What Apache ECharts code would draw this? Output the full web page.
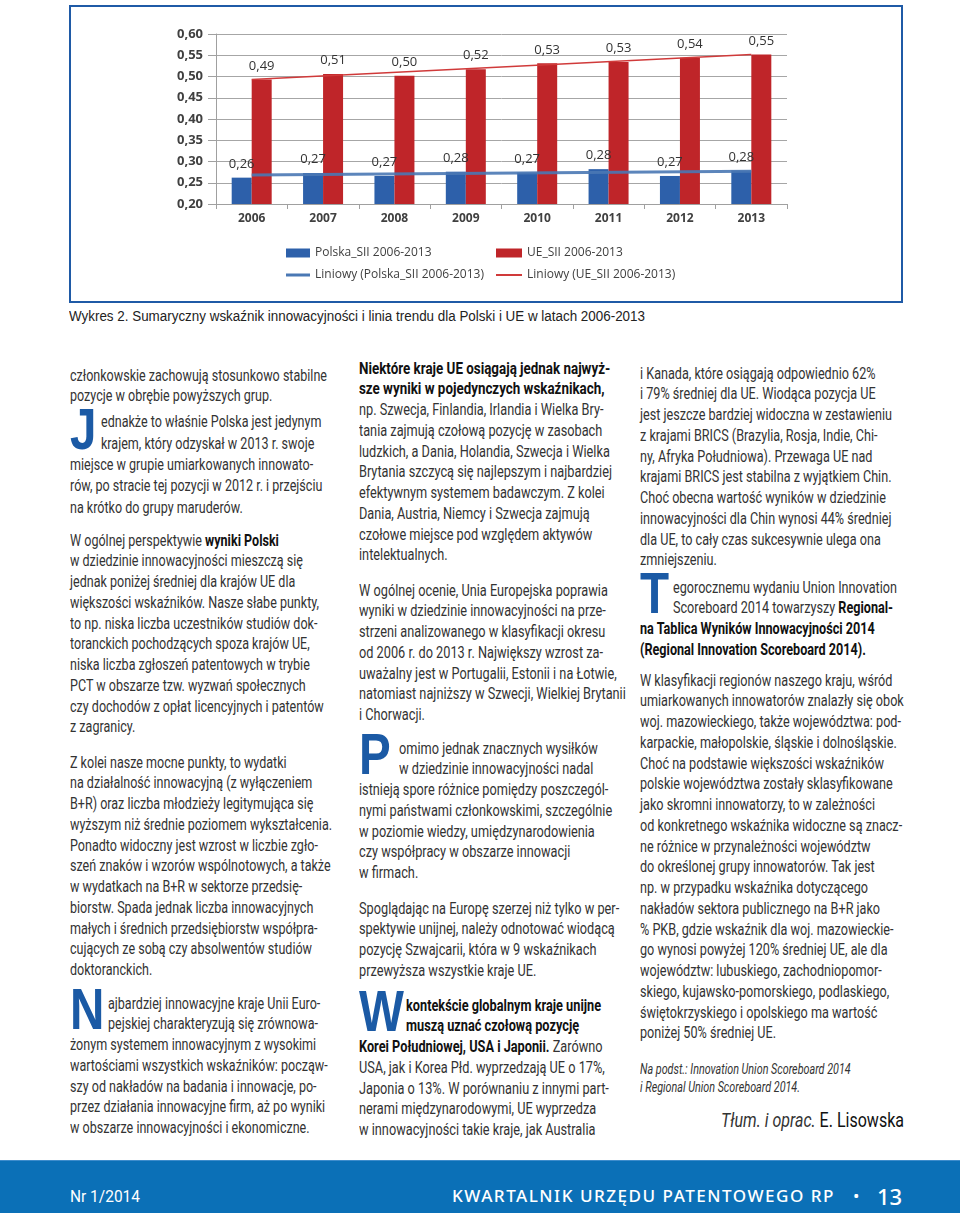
<!DOCTYPE html>
<html><head><meta charset="utf-8">
<script src="https://cdn.jsdelivr.net/npm/echarts@6/dist/echarts.min.js"></script>
<style>
html,body{margin:0;padding:0;background:#fff;}
#page{position:relative;width:960px;height:1213px;overflow:hidden;background:#fff;}
#frame{position:absolute;left:69px;top:5px;width:830px;height:294px;border:2px solid #1f5aa6;background:#fff;}
#chart{position:absolute;left:0;top:0;width:830px;height:294px;}
.ln{position:absolute;white-space:nowrap;font-family:"Liberation Sans Narrow","Roboto",sans-serif;font-size:17px;color:#333;}
.ln .s{display:inline-block;transform-origin:0 50%;}
.ln b{font-weight:700;color:#111;}
.dc{position:absolute;font-family:"Liberation Sans",Arial,sans-serif;font-weight:700;color:#1b5aa5;font-size:58px;line-height:58px;transform-origin:0 0;transform:scaleX(0.82);}
#cap{position:absolute;left:69px;top:307px;white-space:nowrap;font-family:"Liberation Sans",Arial,sans-serif;font-size:14px;line-height:18px;color:#222;transform-origin:0 50%;}
#foot{position:absolute;left:0;top:1160px;width:960px;height:53px;background:#0b70b7;border-top:1px solid #3d8ccc;}
.ft{position:absolute;color:#fff;white-space:nowrap;transform-origin:0 50%;}
</style></head>
<body><div id="page">
<div id="frame"><div id="chart"></div></div>
<div id="cap">Wykres 2. Sumaryczny wskaźnik innowacyjności i linia trendu dla Polski i UE w latach 2006-2013</div>
<div id="foot"></div>
<div class="ft" id="fnr" style="left:70px;top:1186px;font-family:'Liberation Sans Narrow','Roboto',sans-serif;font-size:16px;line-height:22px;">Nr 1/2014</div>
<div class="ft" id="ftitle" style="left:452px;top:1185px;font-family:'Noto Sans',sans-serif;font-weight:500;font-size:17px;line-height:22px;letter-spacing:1.5px;">KWARTALNIK URZĘDU PATENTOWEGO RP</div>
<div class="ft" style="left:853px;top:1185px;font-family:'Noto Sans',sans-serif;font-size:17px;line-height:22px;">•</div>
<div class="ft" id="fnum" style="left:877px;top:1182px;font-family:'Noto Sans',sans-serif;font-weight:500;font-size:22px;line-height:28px;">13</div>
</div>
<script>
// ---- chart data ----
const years = ['2006','2007','2008','2009','2010','2011','2012','2013'];
const polskaSII = [0.262,0.273,0.266,0.276,0.274,0.282,0.266,0.279];
const ueSII = [0.493,0.506,0.502,0.517,0.531,0.534,0.544,0.552];
const polskaTrend = [0.268,null,null,null,null,null,null,0.277];
const ueTrend = [0.493,null,null,null,null,null,null,0.552];
const yMin = 0.20, yMax = 0.60, yStep = 0.05;
const seriesNames = ['Polska_SII 2006-2013','UE_SII 2006-2013','Liniowy (Polska_SII 2006-2013)','Liniowy (UE_SII 2006-2013)'];

const BLUE = '#2d60aa', RED = '#bf2529';
const fmt = v => v.toFixed(2).replace('.', ',');
const chart = echarts.init(document.getElementById('chart'), null, {renderer:'canvas'});
const legTxt = {fontFamily:'Open Sans', fontSize:12, color:'#404040'};
chart.setOption({
  animation:false,
  grid:{left:145, right:114, top:27, bottom:97},
  legend:[
    {data:[seriesNames[0]], left:210, top:235, icon:'rect', itemWidth:24, itemHeight:9, itemGap:0, textStyle:legTxt, selectedMode:false},
    {data:[seriesNames[1]], left:420, top:235, icon:'rect', itemWidth:26, itemHeight:9, itemGap:0, textStyle:legTxt, selectedMode:false},
    {data:[seriesNames[2]], left:210, top:257, icon:'rect', itemWidth:24, itemHeight:3, itemGap:0, textStyle:legTxt, selectedMode:false},
    {data:[seriesNames[3]], left:420, top:257, icon:'rect', itemWidth:26, itemHeight:2, itemGap:0, textStyle:legTxt, selectedMode:false}
  ],
  xAxis:{type:'category', data:years, boundaryGap:true,
    axisLine:{lineStyle:{color:'#a0a0a0'}},
    axisTick:{show:true, length:5, lineStyle:{color:'#a0a0a0'}},
    axisLabel:{fontFamily:'Open Sans', fontWeight:'bold', fontSize:12, color:'#404040', margin:9}},
  yAxis:{type:'value', min:yMin, max:yMax, interval:yStep,
    axisLine:{show:true, lineStyle:{color:'#a0a0a0'}},
    axisTick:{show:true, length:8, lineStyle:{color:'#a0a0a0'}},
    splitLine:{lineStyle:{color:'#a6a6a6'}},
    axisLabel:{fontFamily:'Open Sans', fontWeight:'bold', fontSize:13, color:'#404040', margin:13, formatter:fmt}},
  series:[
    {name:seriesNames[0], type:'bar', data:polskaSII, barWidth:20, barGap:'0%', itemStyle:{color:BLUE},
      label:{show:true, position:'top', distance:7, fontFamily:'Open Sans', fontSize:13, color:'#333', formatter:p=>fmt(p.value)}},
    {name:seriesNames[1], type:'bar', data:ueSII, barWidth:20, barGap:'0%', itemStyle:{color:RED},
      label:{show:true, position:'top', distance:7, fontFamily:'Open Sans', fontSize:13, color:'#333', formatter:p=>fmt(p.value)}},
    {name:seriesNames[2], type:'line', data:polskaTrend, connectNulls:true, symbol:'none', z:5,
      itemStyle:{color:'#4a78b4'}, lineStyle:{color:'#4a78b4', width:3, opacity:0.9}},
    {name:seriesNames[3], type:'line', data:ueTrend, connectNulls:true, symbol:'none', z:5,
      itemStyle:{color:'#d03a3a'}, lineStyle:{color:'#d03a3a', width:1.5}}
  ]
});

// ---- article text ----
const LH = 20.75;
const page = document.getElementById('page');
const cols = {1:[],2:[],3:[]};
function para(col, x, yc, lines, dc, indent, lh){
  const L = lh || LH;
  lines.forEach((t,i)=>{
    const d = document.createElement('div');
    d.className = 'ln';
    const left = x + (dc && i<2 ? indent : 0);
    d.style.left = left + 'px';
    d.style.top = (yc + i*L - L/2) + 'px';
    d.style.height = L + 'px';
    d.style.lineHeight = L + 'px';
    const s = document.createElement('span');
    s.className = 's';
    s.innerHTML = t.replace(/\*\*(.+?)\*\*/g,'<b>$1</b>');
    d.appendChild(s);
    page.appendChild(d);
    cols[col].push(s);
  });
  if(dc){
    const c = document.createElement('div');
    c.className = 'dc';
    c.textContent = dc;
    const base2 = yc + L + 5.5;
    c.style.left = x + 'px';
    c.style.top = (base2 - 49.1) + 'px';
    page.appendChild(c);
  }
}
const C1 = 70, C2 = 359, C3 = 640;
para(1, C1, 375, ['członkowskie zachowują stosunkowo stabilne','pozycje w obrębie powyższych grup.']);
para(1, C1, 422, ['ednakże to właśnie Polska jest jedynym','krajem, który odzyskał w 2013 r. swoje','miejsce w grupie umiarkowanych innowato-','rów, po stracie tej pozycji w 2012 r. i przejściu','na krótko do grupy maruderów.'], 'J', 31, 21.3);
para(1, C1, 540, ['W ogólnej perspektywie **wyniki Polski**','w dziedzinie innowacyjności mieszczą się','jednak poniżej średniej dla krajów UE dla','większości wskaźników. Nasze słabe punkty,','to np. niska liczba uczestników studiów dok-','toranckich pochodzących spoza krajów UE,','niska liczba zgłoszeń patentowych w trybie','PCT w obszarze tzw. wyzwań społecznych','czy dochodów z opłat licencyjnych i patentów','z zagranicy.']);
para(1, C1, 762, ['Z kolei nasze mocne punkty, to wydatki','na działalność innowacyjną (z wyłączeniem','B+R) oraz liczba młodzieży legitymująca się','wyższym niż średnie poziomem wykształcenia.','Ponadto widoczny jest wzrost w liczbie zgło-','szeń znaków i wzorów wspólnotowych, a także','w wydatkach na B+R w sektorze przedsię-','biorstw. Spada jednak liczba innowacyjnych','małych i średnich przedsiębiorstw współpra-','cujących ze sobą czy absolwentów studiów','doktoranckich.']);
para(1, C1, 1003, ['ajbardziej innowacyjne kraje Unii Euro-','pejskiej charakteryzują się zrównowa-','żonym systemem innowacyjnym z wysokimi','wartościami wszystkich wskaźników: począw-','szy od nakładów na badania i innowacje, po-','przez działania innowacyjne firm, aż po wyniki','w obszarze innowacyjności i ekonomiczne.'], 'N', 38);

para(2, C2, 368, ['**Niektóre kraje UE osiągają jednak najwyż-**','**sze wyniki w pojedynczych wskaźnikach,**','np. Szwecja, Finlandia, Irlandia i Wielka Bry-','tania zajmują czołową pozycję w zasobach','ludzkich, a Dania, Holandia, Szwecja i Wielka','Brytania szczycą się najlepszym i najbardziej','efektywnym systemem badawczym. Z kolei','Dania, Austria, Niemcy i Szwecja zajmują','czołowe miejsce pod względem aktywów','intelektualnych.']);
para(2, C2, 590, ['W ogólnej ocenie, Unia Europejska poprawia','wyniki w dziedzinie innowacyjności na prze-','strzeni analizowanego w klasyfikacji okresu','od 2006 r. do 2013 r. Największy wzrost za-','uważalny jest w Portugalii, Estonii i na Łotwie,','natomiast najniższy w Szwecji, Wielkiej Brytanii','i Chorwacji.']);
para(2, C2, 748, ['omimo jednak znacznych wysiłków','w dziedzinie innowacyjności nadal','istnieją spore różnice pomiędzy poszczegól-','nymi państwami członkowskimi, szczególnie','w poziomie wiedzy, umiędzynarodowienia','czy współpracy w obszarze innowacji','w firmach.'], 'P', 40);
para(2, C2, 908, ['Spoglądając na Europę szerzej niż tylko w per-','spektywie unijnej, należy odnotować wiodącą','pozycję Szwajcarii, która w 9 wskaźnikach','przewyższa wszystkie kraje UE.']);
para(2, C2, 1005, ['**kontekście globalnym kraje unijne**','**muszą uznać czołową pozycję**','**Korei Południowej, USA i Japonii.** Zarówno','USA, jak i Korea Płd. wyprzedzają UE o 17%,','Japonia o 13%. W porównaniu z innymi part-','nerami międzynarodowymi, UE wyprzedza','w innowacyjności takie kraje, jak Australia'], 'W', 47);

para(3, C3, 373, ['i Kanada, które osiągają odpowiednio 62%','i 79% średniej dla UE. Wiodąca pozycja UE','jest jeszcze bardziej widoczna w zestawieniu','z krajami BRICS (Brazylia, Rosja, Indie, Chi-','ny, Afryka Południowa). Przewaga UE nad','krajami BRICS jest stabilna z wyjątkiem Chin.','Choć obecna wartość wyników w dziedzinie','innowacyjności dla Chin wynosi 44% średniej','dla UE, to cały czas sukcesywnie ulega ona','zmniejszeniu.']);
para(3, C3, 587, ['egorocznemu wydaniu Union Innovation','Scoreboard 2014 towarzyszy **Regional-**','**na Tablica Wyników Innowacyjności 2014**','**(Regional Innovation Scoreboard 2014).**'], 'T', 33);
para(3, C3, 680, ['W klasyfikacji regionów naszego kraju, wśród','umiarkowanych innowatorów znalazły się obok','woj. mazowieckiego, także województwa: pod-','karpackie, małopolskie, śląskie i dolnośląskie.','Choć na podstawie większości wskaźników','polskie województwa zostały sklasyfikowane','jako skromni innowatorzy, to w zależności','od konkretnego wskaźnika widoczne są znacz-','ne różnice w przynależności województw','do określonej grupy innowatorów. Tak jest','np. w przypadku wskaźnika dotyczącego','nakładów sektora publicznego na B+R jako','% PKB, gdzie wskaźnik dla woj. mazowieckie-','go wynosi powyżej 120% średniej UE, ale dla','województw: lubuskiego, zachodniopomor-','skiego, kujawsko-pomorskiego, podlaskiego,','świętokrzyskiego i opolskiego ma wartość','poniżej 50% średniej UE.']);

// fit each column's text width to a measured reference line
function colScale(col, idx, target){
  return target / cols[col][idx].getBoundingClientRect().width;
}
const S1 = colScale(1, 0, 257);   // "członkowskie zachowują stosunkowo stabilne"
const S2 = colScale(2, 5, 253);   // "Brytania szczycą się najlepszym i najbardziej"
const S3 = colScale(3, 2, 252);   // "jest jeszcze bardziej widoczna w zestawieniu"
[[1,S1],[2,S2],[3,S3]].forEach(([c,s]) => cols[c].forEach(sp => sp.style.transform = 'scaleX(' + s + ')'));
// the bold lead-in of column 2 is set slightly wider
cols[2][0].style.transform = cols[2][1].style.transform = 'scaleX(' + (S2 * 1.05) + ')';

// source note (italic, smaller)
['Na podst.: Innovation Union Scoreboard 2014','i Regional Union Scoreboard 2014.'].forEach((t,i)=>{
  const d = document.createElement('div');
  d.className = 'ln';
  d.style.left = C3 + 'px';
  d.style.top = (1070 + i*18 - 9) + 'px';
  d.style.lineHeight = '18px';
  d.style.fontSize = '14.5px';
  d.style.fontStyle = 'italic';
  d.innerHTML = '<span class="s">' + t + '</span>';
  page.appendChild(d);
  d.firstChild.style.transform = 'scaleX(' + S3 + ')';
});
// signature, right aligned
(function(){
  const d = document.createElement('div');
  d.className = 'ln';
  d.style.fontSize = '20px';
  d.style.lineHeight = '24px';
  d.style.top = (1120 - 12) + 'px';
  d.innerHTML = '<span class="s"><i>Tłum. i oprac.</i> <span style="color:#111">E. Lisowska</span></span>';
  page.appendChild(d);
  const s = d.firstChild;
  const w0 = s.getBoundingClientRect().width;
  s.style.transform = 'scaleX(' + (183 / w0) + ')';
  d.style.left = (904 - 183) + 'px';
})();
// caption and footer width fit
(function(){
  const c = document.getElementById('cap');
  c.style.transform = 'scaleX(' + (576 / c.getBoundingClientRect().width) + ')';
  const t = document.getElementById('ftitle');
  t.style.transform = 'scaleX(' + (383 / t.getBoundingClientRect().width) + ')';
  const n = document.getElementById('fnr');
  n.style.transform = 'scaleX(' + (70 / n.getBoundingClientRect().width) + ')';
})();
</script>
</body></html>
